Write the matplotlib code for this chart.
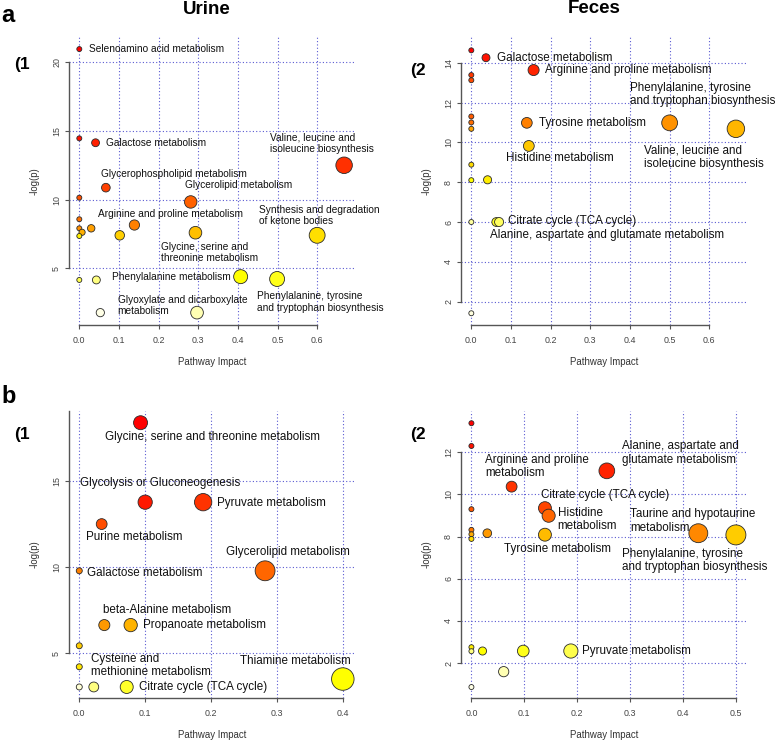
import colorsys
import numpy as np
import matplotlib.pyplot as plt

W, H = 778, 742
DPI = 100

# ---- (a)(1) Urine ----
urine_a_names = ["Selenoamino acid metabolism", "", "Galactose metabolism",
                 "Valine, leucine and\nisoleucine biosynthesis", "Glycerophospholipid metabolism",
                 "", "Glycerolipid metabolism", "", "", "", "", "",
                 "Arginine and proline metabolism", "", "Glycine, serine and\nthreonine metabolism",
                 "Synthesis and degradation\nof ketone bodies", "", "", "Phenylalanine metabolism",
                 "Phenylalanine, tyrosine\nand tryptophan biosynthesis", "",
                 "Glyoxylate and dicarboxylate\nmetabolism"]
urine_a_impact = [0.0, 0.0, 0.041, 0.668, 0.067, 0.0, 0.281, 0.0, 0.0, 0.007, 0.0, 0.030,
                  0.139, 0.102, 0.293, 0.600, 0.0, 0.043, 0.407, 0.499, 0.297, 0.053]
urine_a_logp = [20.96, 14.46, 14.14, 12.50, 10.87, 10.14, 9.83, 8.57, 7.91, 7.62, 7.35, 7.91,
                8.15, 7.40, 7.59, 7.40, 4.15, 4.15, 4.39, 4.22, 1.77, 1.77]

# ---- (a)(2) Feces ----
feces_a_names = ["", "Galactose metabolism", "Arginine and proline metabolism", "", "", "", "", "",
                 "Tyrosine metabolism", "Phenylalanine, tyrosine\nand tryptophan biosynthesis",
                 "Valine, leucine and\nisoleucine biosynthesis", "Histidine metabolism", "", "", "",
                 "Citrate cycle (TCA cycle)", "Alanine, aspartate and glutamate metabolism", "", ""]
feces_a_impact = [0.0, 0.037, 0.157, 0.0, 0.0, 0.0, 0.0, 0.0, 0.140, 0.500, 0.667, 0.145,
                  0.0, 0.0, 0.041, 0.063, 0.070, 0.0, 0.0]
feces_a_logp = [14.62, 14.25, 13.63, 13.38, 13.12, 11.30, 11.00, 10.68, 10.98, 10.98, 10.68,
                9.82, 8.88, 8.10, 8.12, 6.00, 6.00, 6.00, 1.42]

# ---- (b)(1) Urine ----
urine_b_names = ["Glycine, serine and threonine metabolism", "Glycolysis or Gluconeogenesis",
                 "Pyruvate metabolism", "Purine metabolism", "Glycerolipid metabolism",
                 "Galactose metabolism", "beta-Alanine metabolism", "Propanoate metabolism", "",
                 "Cysteine and\nmethionine metabolism", "Thiamine metabolism",
                 "Citrate cycle (TCA cycle)", "", ""]
urine_b_impact = [0.093, 0.100, 0.188, 0.034, 0.282, 0.0, 0.038, 0.078, 0.0, 0.0, 0.400,
                  0.072, 0.022, 0.0]
urine_b_logp = [18.38, 13.77, 13.77, 12.50, 9.79, 9.79, 6.64, 6.64, 5.44, 4.22, 3.51,
                3.05, 3.05, 3.05]

# ---- (b)(2) Feces ----
feces_b_names = ["", "", "Alanine, aspartate and\nglutamate metabolism",
                 "Arginine and proline\nmetabolism", "Citrate cycle (TCA cycle)", "Histidine\nmetabolism",
                 "", "Taurine and hypotaurine\nmetabolism",
                 "Phenylalanine, tyrosine\nand tryptophan biosynthesis", "", "", "",
                 "", "Tyrosine metabolism", "", "", "", "", "Pyruvate metabolism", "", ""]
feces_b_impact = [0.0, 0.0, 0.256, 0.076, 0.139, 0.146, 0.0, 0.429, 0.500, 0.0, 0.030, 0.0,
                  0.0, 0.139, 0.0, 0.0, 0.021, 0.098, 0.188, 0.061, 0.0]
feces_b_logp = [13.38, 12.30, 11.12, 10.37, 9.35, 8.99, 9.30, 8.16, 8.08, 8.32, 8.16, 8.11,
                7.89, 8.09, 2.75, 2.56, 2.57, 2.57, 2.57, 1.59, 0.86]

LABEL_FONT = "Liberation Sans"
GRID_COL = "#5a5ad2"
AXIS_COL = "#555555"


def heat_colors(n):
    # same as R's heat.colors()
    j = n // 4
    i = n - j
    cols = [colorsys.hsv_to_rgb(h, 1, 1) for h in np.linspace(0, 1 / 6, i)]
    if j > 0:
        cols += [colorsys.hsv_to_rgb(1 / 6, s, 1)
                 for s in np.linspace(1 - 1 / (2 * j), 1 / (2 * j), j)]
    return cols


def draw_panel(fig, rect, xlim, ylim, xticks, yticks, names, impact, logp,
               dsize, fsize, offsets, ytop_spine=None):
    l, t, r, b = rect
    ax = fig.add_axes([l / W, 1 - b / H, (r - l) / W, (b - t) / H])
    ax.set_xlim(*xlim)
    ax.set_ylim(*ylim)

    impact = np.asarray(impact)
    logp = np.asarray(logp)
    order = np.argsort(-logp, kind="stable")
    cols = heat_colors(len(logp))
    colors = [None] * len(logp)
    for rank, idx in enumerate(order):
        colors[idx] = cols[rank]

    dmin, dmax = dsize
    diam = dmin + (dmax - dmin) * np.sqrt(impact / impact.max())
    s = (diam * 72 / DPI) ** 2
    ax.scatter(impact, logp, s=s, c=colors, edgecolors="#2a2a2a", linewidths=0.6,
               zorder=3, clip_on=False)

    for name, x, y in zip(names, impact, logp):
        if not name:
            continue
        dx, dy, ha = offsets[name]
        ax.annotate(name, (x, y), xytext=(dx, -dy), textcoords="offset pixels",
                    ha=ha, va="center", fontsize=fsize, family=LABEL_FONT,
                    color="#111111", linespacing=1.15, zorder=4)

    ax.set_xticks(xticks)
    ax.set_yticks(yticks)
    ax.set_xticklabels([f"{v:.1f}" for v in xticks])
    ax.set_yticklabels([str(v) for v in yticks], rotation=90, va="center")
    ax.grid(True, color=GRID_COL, lw=0.8, ls=(0, (1, 2)))
    ax.set_axisbelow(True)
    for side in ("top", "right"):
        ax.spines[side].set_visible(False)
    for side in ("left", "bottom"):
        ax.spines[side].set_color(AXIS_COL)
        ax.spines[side].set_linewidth(1.0)
    ax.spines["bottom"].set_bounds(xticks[0], xticks[-1])
    ax.spines["left"].set_bounds(yticks[0], ytop_spine if ytop_spine else yticks[-1])
    ax.tick_params(length=3.2, width=0.8, color=AXIS_COL, labelcolor="#444444",
                   labelsize=6.4)
    ax.tick_params(axis="x", pad=4.5)
    ax.tick_params(axis="y", pad=2.5)
    for lab in ax.get_xticklabels() + ax.get_yticklabels():
        lab.set_family(LABEL_FONT)
    ax.set_xlabel("Pathway Impact", fontsize=6.9, family=LABEL_FONT, color="#333333",
                  va="center", ha="center")
    ax.set_ylabel("-log(p)", fontsize=6.9, family=LABEL_FONT, color="#333333",
                  va="center", ha="center")
    ax.xaxis.set_label_coords(0.5, -0.128)
    ax.yaxis.set_label_coords(-0.12, 0.5)
    return ax


fig = plt.figure(figsize=(W / DPI, H / DPI), dpi=DPI)

off_a1 = {
    "Selenoamino acid metabolism": (10, 0, "left"),
    "Galactose metabolism": (10, 0.6, "left"),
    "Valine, leucine and\nisoleucine biosynthesis": (-74.4, -22, "left"),
    "Glycerophospholipid metabolism": (-5.3, -13.4, "left"),
    "Glycerolipid metabolism": (-5.4, -16.7, "left"),
    "Arginine and proline metabolism": (-36, -10.7, "left"),
    "Synthesis and degradation\nof ketone bodies": (-57.7, -19.6, "left"),
    "Glycine, serine and\nthreonine metabolism": (-34.3, 20, "left"),
    "Phenylalanine metabolism": (-10, 0, "right"),
    "Phenylalanine, tyrosine\nand tryptophan biosynthesis": (-19.7, 23, "left"),
    "Glyoxylate and dicarboxylate\nmetabolism": (17.4, -6.9, "left"),
}
draw_panel(fig, (69, 37, 356, 325), (-0.026, 0.698), (0.87, 21.84),
           [0.0, 0.1, 0.2, 0.3, 0.4, 0.5, 0.6], [5, 10, 15, 20],
           urine_a_names, urine_a_impact, urine_a_logp, (5, 16.5), 7.3, off_a1)

off_a2 = {
    "Galactose metabolism": (10.7, 0, "left"),
    "Arginine and proline metabolism": (11, 0.3, "left"),
    "Phenylalanine, tyrosine\nand tryptophan biosynthesis": (-39.7, -28.3, "left"),
    "Tyrosine metabolism": (11.7, 0, "left"),
    "Valine, leucine and\nisoleucine biosynthesis": (-92, 28.7, "left"),
    "Histidine metabolism": (-22.6, 12.4, "left"),
    "Citrate cycle (TCA cycle)": (11.3, -0.7, "left"),
    "Alanine, aspartate and glutamate metabolism": (-9, 13, "left"),
}
draw_panel(fig, (461, 37, 747, 325), (-0.026, 0.695), (0.83, 15.29),
           [0.0, 0.1, 0.2, 0.3, 0.4, 0.5, 0.6], [2, 4, 6, 8, 10, 12, 14],
           feces_a_names, feces_a_impact, feces_a_logp, (5, 17.5), 8.4, off_a2)

off_b1 = {
    "Glycine, serine and threonine metabolism": (-35.7, 14.6, "left"),
    "Glycolysis or Gluconeogenesis": (-65, -19.6, "left"),
    "Pyruvate metabolism": (14.3, 0.4, "left"),
    "Purine metabolism": (-15.7, 13, "left"),
    "Glycerolipid metabolism": (-39, -18.3, "left"),
    "Galactose metabolism": (7.6, 2.3, "left"),
    "beta-Alanine metabolism": (-1, -15, "left"),
    "Propanoate metabolism": (12.3, 0, "left"),
    "Cysteine and\nmethionine metabolism": (11.6, -1.2, "left"),
    "Thiamine metabolism": (-103, -18.3, "left"),
    "Citrate cycle (TCA cycle)": (12, 0.3, "left"),
}
draw_panel(fig, (69, 411, 356, 698), (-0.0156, 0.42), (2.41, 19.06),
           [0.0, 0.1, 0.2, 0.3, 0.4], [5, 10, 15],
           urine_b_names, urine_b_impact, urine_b_logp, (6, 22.5), 8.4, off_b1,
           ytop_spine=19.06)

off_b2 = {
    "Alanine, aspartate and\nglutamate metabolism": (15, -17.7, "left"),
    "Arginine and proline\nmetabolism": (-26.3, -20.4, "left"),
    "Citrate cycle (TCA cycle)": (-3.7, -13.3, "left"),
    "Histidine\nmetabolism": (9, 3.5, "left"),
    "Taurine and hypotaurine\nmetabolism": (-68.3, -12.3, "left"),
    "Tyrosine metabolism": (-40.6, 14.6, "left"),
    "Phenylalanine, tyrosine\nand tryptophan biosynthesis": (-114, 25.7, "left"),
    "Pyruvate metabolism": (11.6, 0.3, "left"),
}
draw_panel(fig, (461, 411, 747, 698), (-0.0197, 0.521), (0.34, 13.96),
           [0.0, 0.1, 0.2, 0.3, 0.4, 0.5], [2, 4, 6, 8, 10, 12],
           feces_b_names, feces_b_impact, feces_b_logp, (5, 20), 8.4, off_b2)


def ftext(px, py, s, **kw):
    fig.text(px / W, 1 - py / H, s, **kw)


ftext(206.7, 10, "Urine", ha="center", va="center", fontsize=13.5,
      fontweight="bold", family=LABEL_FONT)
ftext(593.7, 8.5, "Feces", ha="center", va="center", fontsize=13.5,
      fontweight="bold", family=LABEL_FONT)
ftext(1, 16, "a", ha="left", va="center", fontsize=17, fontweight="bold", family=LABEL_FONT)
ftext(1, 397, "b", ha="left", va="center", fontsize=17, fontweight="bold", family=LABEL_FONT)
for px, py in [(14, 64.5), (410, 70.5), (14, 435), (410, 435)]:
    n = "(1" if px < 200 else "(2"
    ftext(px, py, n, ha="left", va="center", fontsize=12.5, fontweight="bold",
          family=LABEL_FONT)

fig.savefig("out.png", dpi=DPI)
